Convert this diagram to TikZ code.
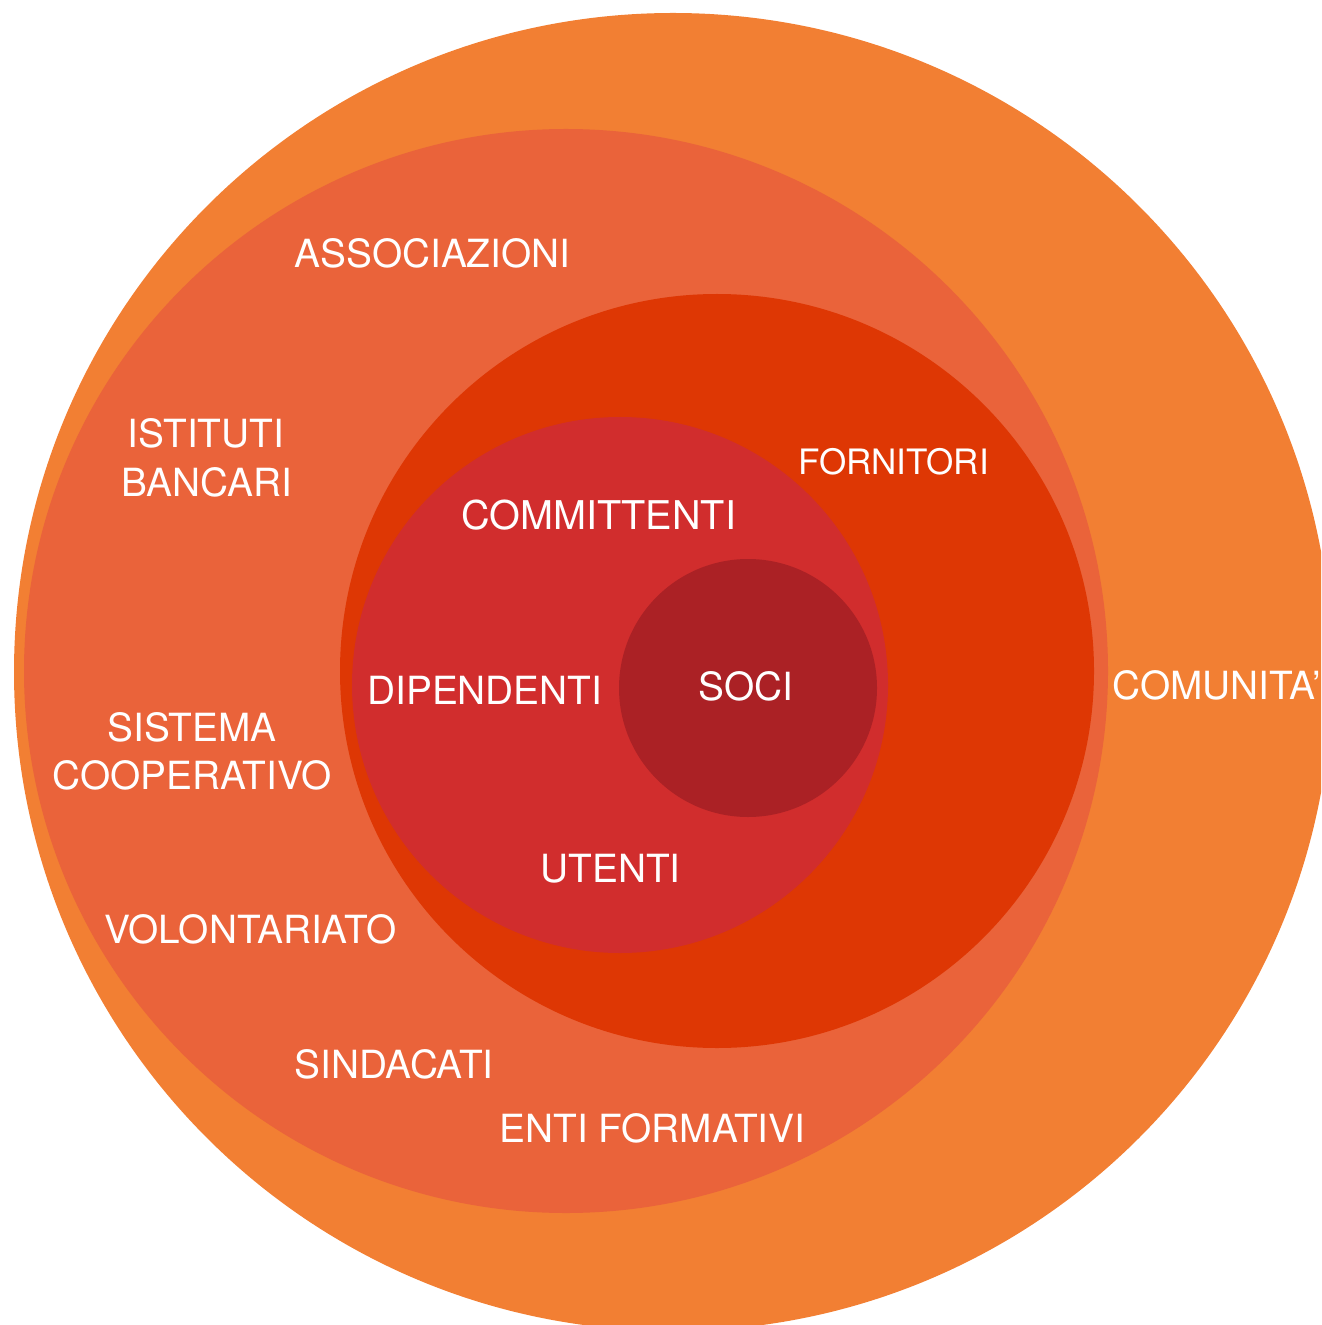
\documentclass[tikz,border=0pt]{standalone}
\usepackage{fontspec}
\setmainfont{TeX Gyre Heros}
\definecolor{cOuter}{HTML}{F27F33}
\definecolor{cSalmon}{HTML}{EA633A}
\definecolor{cDeep}{HTML}{DE3704}
\definecolor{cRed}{HTML}{D12D2D}
\definecolor{cCore}{HTML}{AB2125}
\tikzset{
  lbl/.style={text=white, inner sep=0pt, font=\fontsize{19.4}{24}\selectfont},
  lblsmall/.style={lbl, font=\fontsize{17.5}{22}\selectfont},
  lblbig/.style={lbl, font=\fontsize{19.8}{24}\selectfont},
}
\begin{document}
\begin{tikzpicture}[x=0.5pt,y=-0.5pt]
\useasboundingbox (0,0) rectangle (1321,1325);
\clip (0,0) rectangle (1321,1325);
% rings
\fill[cOuter]  (673,672) circle[radius=329.5pt];
\fill[cSalmon] (566,671) circle[radius=271pt];
\fill[cDeep]   (717,671) circle[radius=188.5pt];
\fill[cRed]    (620,685) circle[radius=134pt];
\fill[cCore]   (748,688) circle[radius=64.5pt];
% labels
\node[lbl, anchor=base west] (assoc) at (294,268) {ASSOCIAZIONI};
\node[lbl, anchor=base] (istituti) at (206,448) {ISTITUTI};
\node[lbl, anchor=base] (bancari) at (207,496) {BANCARI};
\node[lbl, anchor=base] (sistema) at (192,741) {SISTEMA};
\node[lbl, anchor=base] (coop) at (192,789) {COOPERATIVO};
\node[lbl, anchor=base west] (volont) at (104,943) {VOLONTARIATO};
\node[lbl, anchor=base west] (sindacati) at (294,1078) {SINDACATI};
\node[lbl, anchor=base west] (enti) at (499,1142) {ENTI FORMATIVI};
\node[lbl, anchor=base west] (comunita) at (1112,699) {COMUNITA'};
\node[lblsmall, anchor=base west] (fornitori) at (798,474) {FORNITORI};
\node[lblbig, anchor=base west] (committenti) at (461,529) {COMMITTENTI};
\node[lbl, anchor=base west] (dipendenti) at (367,704) {DIPENDENTI};
\node[lbl, anchor=base west] (utenti) at (540,882) {UTENTI};
\node[lbl, anchor=base west] (soci) at (698,700) {SOCI};
\end{tikzpicture}
\end{document}
